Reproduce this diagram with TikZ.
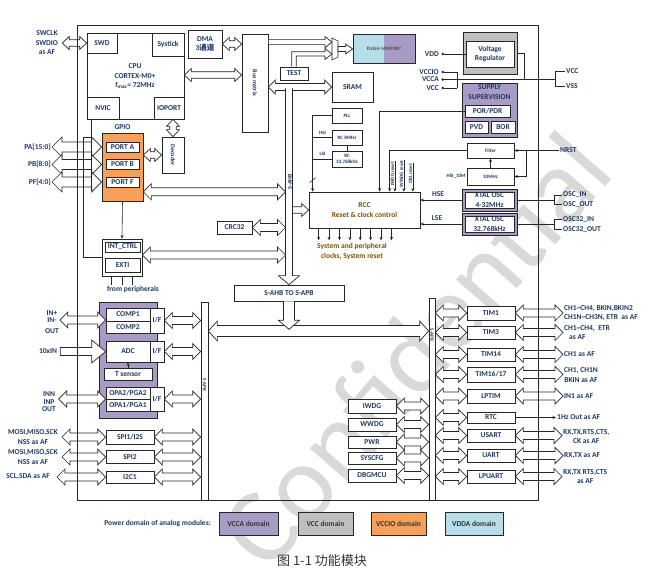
\documentclass[tikz,border=0pt]{standalone}
\usepackage{fontspec}
\setmainfont{Carlito}
\newfontfamily\cjk{Noto Sans CJK SC}
\usetikzlibrary{arrows.meta,positioning,calc}
\definecolor{ChipNavy}{HTML}{1F3864}
\definecolor{ChipBrown}{HTML}{7F5200}
\definecolor{VccaPurple}{HTML}{A89BC6}
\definecolor{VccGray}{HTML}{BFBFBF}
\definecolor{VccioOrange}{HTML}{F6A05A}
\definecolor{VddaBlue}{HTML}{B6DDE8}
\definecolor{WaterGray}{HTML}{D9D9D9}

\newcommand{\lbl}{\bfseries\fontsize{7.5}{9.5}\selectfont}
\newcommand{\sml}{\bfseries\fontsize{6}{7}\selectfont}
\newcommand{\tny}{\bfseries\fontsize{5}{6}\selectfont}

\tikzset{
  hs/.store in=\bhs, hh/.store in=\bhh, hl/.store in=\bhl,
  hs=4pt, hh=8pt, hl=8pt,
  small bus/.style={hs=3.2pt,hh=6.5pt,hl=7pt},
  big bus/.style={hs=5pt,hh=10pt,hl=10pt},
  blk/.style={draw=black!85,fill=white,line width=.7pt,inner sep=0pt,align=center,font=\lbl,text=ChipNavy},
  sz/.style 2 args={minimum width=#1,minimum height=#2},
  pin/.style={inner sep=1pt,align=center,font=\lbl,text=ChipNavy},
  wire/.style={draw=black!85,line width=.6pt},
  sig/.style={wire,-{Stealth[length=3.5pt,width=3pt]}},
  pwr/.style={wire,{Circle[length=2.4pt]}-},
  bus/.style={draw=black!85,fill=white,line width=.7pt},
}

% hollow bus arrows, the first point gives the height
\newcommand{\hbus}[3][]{\draw[bus,#1] let \p1=(#2), \p2=(#3) in
  (\x1,\y1) -- (\x1+\bhl,\y1+\bhh) -- (\x1+\bhl,\y1+\bhs) -- (\x2-\bhl,\y1+\bhs)
  -- (\x2-\bhl,\y1+\bhh) -- (\x2,\y1) -- (\x2-\bhl,\y1-\bhh) -- (\x2-\bhl,\y1-\bhs)
  -- (\x1+\bhl,\y1-\bhs) -- (\x1+\bhl,\y1-\bhh) -- cycle;}
\newcommand{\hone}[3][]{\draw[bus,#1] let \p1=(#2), \p2=(#3) in
  (\x1,\y1+\bhs) -- (\x2-\bhl,\y1+\bhs) -- (\x2-\bhl,\y1+\bhh) -- (\x2,\y1)
  -- (\x2-\bhl,\y1-\bhh) -- (\x2-\bhl,\y1-\bhs) -- (\x1,\y1-\bhs) -- cycle;}
\newcommand{\vbus}[3][]{\draw[bus,#1] let \p1=(#2), \p2=(#3) in
  (\x1,\y1) -- (\x1+\bhh,\y1-\bhl) -- (\x1+\bhs,\y1-\bhl) -- (\x1+\bhs,\y2+\bhl)
  -- (\x1+\bhh,\y2+\bhl) -- (\x1,\y2) -- (\x1-\bhh,\y2+\bhl) -- (\x1-\bhs,\y2+\bhl)
  -- (\x1-\bhs,\y1-\bhl) -- (\x1-\bhh,\y1-\bhl) -- cycle;}
\newcommand{\vone}[3][]{\draw[bus,#1] let \p1=(#2), \p2=(#3) in
  (\x1-\bhs,\y1) -- (\x1-\bhs,\y2+\bhl) -- (\x1-\bhh,\y2+\bhl) -- (\x1,\y2)
  -- (\x1+\bhh,\y2+\bhl) -- (\x1+\bhs,\y2+\bhl) -- (\x1+\bhs,\y1);}

\begin{document}
\begin{tikzpicture}[x=1pt,y=-1pt]
  \useasboundingbox (0,0) rectangle (651,585);
  \node[rotate=49,text=WaterGray,font=\fontsize{108}{108}\selectfont] (wmark) at (415,350) {Confidential};

  % core
  \node[blk,sz={97}{86}] (cpu) at (135.5,76) {};
  \node[blk,sz={30}{20}] (swd) at (102,43) {SWD};
  \node[blk,sz={32}{23}] (systick) at (168,44.5) {Systick};
  \node[blk,sz={32}{22}] (nvic) at (103,108) {NVIC};
  \node[blk,sz={30}{22}] (ioport) at (169,108) {IOPORT};
  \node[pin] (cpulbl) at (135,76.5) {CPU\\CORTEX-M0+\\f\textsubscript{max}= 72MHz};
  \node[blk,sz={34}{28}] (dma) at (205,44) {DMA\\3{\cjk 通道}};
  \node[blk,sz={26}{98}] (busmx) at (255,83) {};
  \node[font=\sml,text=ChipNavy,rotate=-90] (busmxlbl) at (busmx) {Bus matrix};
  \node[blk,sz={28}{13}] (test) at (294,73.5) {TEST};
  \node[blk,sz={41}{30}] (sram) at (352.5,87) {SRAM};
  \node[blk,sz={62}{29},fill=VddaBlue,font=\tny,text=black!70,
    path picture={\fill[VccaPurple] (path picture bounding box.north) rectangle (path picture bounding box.south east);}]
    (flash) at (384,48.5) {FLASH\,\,MEMORY};
  \draw[wire] (332,38) -- (338,41) -- (338,57) -- (332,60) -- cycle;
  \coordinate (mux) at (335,49);

  \node[pin] (swlbl) at (47,43) {SWCLK\\SWDIO\\as AF};
  \hbus[small bus]{$(swlbl.east)+(3,0)$}{swd.west};
  \hbus[small bus]{dma.east}{busmx.west};
  \hbus[small bus]{$(cpu.east)+(0,-1)$}{busmx.west};
  \hbus[hs=3.5pt,hh=7pt,hl=7pt]{busmx.east |- sram.west}{sram.west};
  \hone[hs=2.5pt,hh=5.5pt,hl=7pt]{$(busmx.north east)+(0,8.5)$}{$(mux)+(-3,0)$};
  \draw[bus] let \p1=(test.north), \p2=(mux) in
    (\x1-2.3pt,\y1) -- (\x1-2.3pt,\y2-2.7pt) -- (\x2-10pt,\y2-2.7pt) -- (\x2-10pt,\y2+.5pt)
    -- (\x2-3pt,\y2-5pt) -- (\x2-10pt,\y2-10.5pt) -- (\x2-10pt,\y2-7pt) -- (\x1+2.3pt,\y2-7pt)
    -- (\x1+2.3pt,\y1);
  \hone[hs=2.5pt,hh=5pt,hl=7pt]{$(mux)+(3,0)$}{flash.west};

  % power
  \node[blk,sz={54}{42},fill=VccGray] (vrego) at (490,53) {};
  \node[blk,sz={48}{26}] (vreg) at (490,54) {Voltage\\Regulator};
  \node[pin,anchor=east] (vdd) at (440,54) {VDD};
  \draw[pwr] ($(vdd.east)+(1.5,0)$) -- (vreg.west);
  \node[pin,anchor=east] (vccio) at (440,72) {VCCIO};
  \node[pin,anchor=east] (vcca) at (440,79.5) {VCCA};
  \node[pin,anchor=east] (vccl) at (440,88) {VCC};
  \node[pin,anchor=west] (vccr) at (565,71) {VCC};
  \node[pin,anchor=west] (vssr) at (565,86) {VSS};
  \coordinate (vbr) at ($(vcca.east)+(17,0)$);
  \coordinate (pwrbr) at ($(vccr.west)+(-10,0)$);
  \draw[pwr] ($(vccio.east)+(1.5,0)$) -- (vccio.east -| vbr) -- (vccl.east -| vbr);
  \draw[pwr] ($(vccl.east)+(1.5,0)$) -- (vccl.east -| vbr);
  \draw[pwr] ($(vcca.east)+(1.5,0)$) -- (vcca.east -| pwrbr);
  \draw[wire] (vccr.west) -- (vccr.west -| pwrbr) -- (vssr.west -| pwrbr) -- (vssr.west);
  \draw[wire] (vrego.east) -- ++(7,0) |- (vcca.east -| pwrbr);

  \node[blk,sz={55}{54},fill=VccaPurple] (supv) at (489.5,110) {};
  \node[pin] (supvlbl) at ($(supv.north)+(0,9.5)$) {SUPPLY\\SUPERVISION};
  \node[blk,sz={45}{12}] (por) at (487.5,111) {POR/PDR};
  \node[blk,sz={23}{12}] (pvd) at (476.5,127) {PVD};
  \node[blk,sz={24}{12}] (bor) at (503,127) {BOR};

  % clocks and reset
  \node[blk,sz={111}{36},text=ChipBrown] (rcc) at (364.5,210) {RCC\\Reset \& clock control};
  \draw[sig] (por.west) -| ($(rcc.north west)+(71,0)$);
  \node[blk,sz={47}{15},font=\tny] (filter) at (490.5,150.5) {Filter};
  \node[blk,sz={47}{17},font=\tny] (tenm) at (490.5,176.5) {10MHz};
  \node[pin,font=\tny,anchor=east] (hsi10) at (tenm.west) {HSI\_10M};
  \draw[sig] (filter.west) -| ($(rcc.north west)+(81,0)$);
  \draw[sig] (tenm.north) -- (filter.south);
  \node[pin,anchor=west] (nrst) at (559,150.5) {NRST};
  \draw[sig] (nrst.west) -- (filter.east);
  \coordinate (nrstb) at ($(filter.east)+(12,0)$);
  \draw[sig] (nrstb) |- (tenm.east);
  \node[pin,font=\tny,rotate=90,inner sep=.5pt] (iwdgr) at (392.5,174) {IWDG reset};
  \node[pin,font=\tny,rotate=90,inner sep=.5pt] (wwdgr) at (401.5,174) {WWDG reset};
  \node[pin,font=\tny,rotate=90,inner sep=.5pt] (oblr) at (410.5,174) {OBL reset};
  \draw[sig] (iwdgr.south east) -- (iwdgr.south east |- rcc.north);
  \draw[sig] (wwdgr.south east) -- (wwdgr.south east |- rcc.north);
  \draw[sig] (oblr.south east) -- (oblr.south east |- rcc.north);

  \node[blk,sz={30}{15},font=\tny] (pll) at (347,115.5) {PLL};
  \node[blk,sz={30}{15},font=\tny] (rc8) at (347,137.5) {RC 8MHz};
  \node[blk,sz={30}{16},font=\tny] (rc32) at (347,159) {RC\\32.768kHz};
  \draw[wire] (rc8.south) -- (rc32.north);
  \coordinate (clkin) at ($(rcc.north west)+(4,0)$);
  \draw[sig] (pll.west) -| (clkin);
  \draw[wire] (rc8.west) -- (rc8.west -| clkin);
  \draw[wire] (rc32.west) -- (rc32.west -| clkin);
  \draw[wire] ($(clkin)+(-3,-9)$) -- ++(6,-5);
  \node[pin,font=\tny] (hsi) at ($(rc8.west)+(-9,-5)$) {HSI};
  \node[pin,font=\tny] (lsi) at ($(rc32.west)+(-9,-5)$) {LSI};

  \node[blk,sz={55}{22},fill=VccaPurple] (hseo) at (489.5,200) {};
  \node[blk,sz={49}{16}] (hse) at (489.5,200) {XTAL OSC\\4-32MHz};
  \node[blk,sz={55}{22},fill=VccaPurple] (lseo) at (489.5,224) {};
  \node[blk,sz={49}{16}] (lse) at (489.5,224) {XTAL OSC\\32.768kHz};
  \draw[sig] (hseo.west) -- (hseo.west -| rcc.east);
  \draw[sig] (lseo.west) -- (lseo.west -| rcc.east);
  \node[pin] (hselbl) at (438,194) {HSE};
  \node[pin] (lselbl) at (437,218) {LSE};
  \node[pin,anchor=west] (oscin) at (562,195) {OSC\_IN};
  \node[pin,anchor=west] (oscout) at (562,204.5) {OSC\_OUT};
  \node[pin,anchor=west] (osc32in) at (562,219.5) {OSC32\_IN};
  \node[pin,anchor=west] (osc32out) at (562,229.5) {OSC32\_OUT};
  \coordinate (oscbr) at ($(oscin.west)+(-8,0)$);
  \draw[wire] (oscin.west) -- (oscin.west -| oscbr) -- (oscout.west -| oscbr) -- (oscout.west);
  \draw[wire] (osc32in.west) -- (osc32in.west -| oscbr) -- (osc32out.west -| oscbr) -- (osc32out.west);
  \draw[wire] (hseo.east) -- (hseo.east -| oscbr);
  \draw[wire] (lseo.east) -- (lseo.east -| oscbr);

  \foreach \i in {0,...,7}
    \draw[sig] ($(rcc.south west)+(10+10.4*\i,0)$) -- ++(0,12);
  \node[pin,text=ChipBrown] (clklbl) at (352,251.5) {System and peripheral\\clocks, System reset};

  % AHB side
  \node[blk,sz={35}{13}] (crc) at (234.5,227.5) {CRC32};
  \node[blk,sz={110}{16}] (ahb2apb) at (289,293) {S-AHB TO S-APB};
  \draw[bus] let \p1=(ahb2apb.north), \p2=(sram.west) in
    (\x1-3.5pt,\y2-1.5pt) -- (\x1-3.5pt,\y1+9pt) -- (\x1-10.5pt,\y1+9pt) -- (\x1,\y1)
    -- (\x1+10.5pt,\y1+9pt) -- (\x1+3.5pt,\y1+9pt) -- (\x1+3.5pt,\y2-1.5pt);
  \coordinate (ahbL) at ($(ahb2apb.north)+(-3.5,0)$);
  \coordinate (ahbR) at ($(ahb2apb.north)+(3.5,0)$);
  \node[font=\sml,text=ChipNavy,rotate=90] (ahblbl) at ($(ahb2apb.north)+(1,-103)$) {S-AHB};

  % GPIO
  \node[blk,sz={41}{68},fill=VccioOrange] (gpio) at (122.5,167) {};
  \node[pin] (gpiolbl) at ($(gpio.north)+(0,-6)$) {GPIO};
  \node[blk,sz={33}{10}] (porta) at (122.5,147) {PORT A};
  \node[blk,sz={33}{10}] (portb) at (122.5,164.5) {PORT B};
  \node[blk,sz={33}{10}] (portf) at (122.5,182) {PORT F};
  \node[blk,sz={22}{36}] (decoder) at (173,155) {};
  \node[font=\sml,text=ChipNavy,rotate=-90] (decolbl) at (decoder) {Decoder};
  \vbus[small bus]{decoder.north |- ioport.south}{decoder.north};
  \hbus[small bus]{gpio.east |- decoder.west}{decoder.west};
  \node[pin,anchor=east] (pa) at (52,147) {PA[15:0]};
  \node[pin,anchor=east] (pb) at (52,164.5) {PB[8:0]};
  \node[pin,anchor=east] (pf) at (52,182) {PF[4:0]};
  \hbus[big bus]{pa.east}{gpio.west};
  \hbus[big bus]{pb.east}{gpio.west};
  \hbus[big bus]{pf.east}{gpio.west};

  \node[blk,sz={40}{37}] (extio) at (122,257.5) {};
  \node[blk,sz={35}{10}] (intc) at (122.5,247) {INT\_CTRL};
  \node[blk,sz={35}{14}] (exti) at (122.5,265) {EXTI};
  \draw[sig] (portf.south |- gpio.south) -- (extio.north);
  \node[pin] (fromp) at ($(extio.south)+(11,13)$) {from peripherals};
  \draw[wire] ($(extio.south)+(-11,9)$) -- ++(0,-9);
  \draw[wire] ($(extio.south)+(0,9)$) -- ++(0,-9);
  \draw[wire] ($(extio.south)+(10,9)$) -- ++(0,-9);
  \coordinate (nvicx) at ($(nvic.south west)+(5,0)$);
  \draw[wire] (nvicx) -- ++(0,72);
  \draw[wire] ($(nvicx)+(0,18)$) -- ++(-8,0) |- (extio.west);

  \hbus{$(gpio.south east)+(0,-9.5)$}{ahbL};
  \hbus{crc.east}{ahbL};
  \hbus{$(extio.east)+(0,-2.5)$}{ahbL};
  \hone[small bus]{ahbR |- rcc.west}{rcc.west};

  % APB side
  \node[blk,sz={7}{198}] (apbL) at (204.5,401) {};
  \node[blk,sz={6}{202}] (apbR) at (432,399) {};
  \node[font=\tny,text=ChipNavy,rotate=-90] (apbLlbl) at ($(apbL)+(0,-16)$) {S-APB};
  \node[font=\tny,text=ChipNavy,rotate=-90] (apbRlbl) at ($(apbR)+(0,-64)$) {S-APB};
  \hbus[hs=5.5pt,hh=10pt,hl=9pt]{$(apbL.east)+(0,-70)$}{apbR.west};
  \vone[hs=5.5pt,hh=10.5pt,hl=9pt]{ahb2apb.south}{$(ahb2apb.south)+(0,28)$};

  \node[blk,sz={58}{116},fill=VccaPurple] (vccabox) at (128,360) {};
  \node[blk,sz={44}{13}] (comp1) at (128,314.5) {COMP1};
  \node[blk,sz={44}{12}] (comp2) at (128,327) {COMP2};
  \node[blk,sz={14}{25}] (if1) at (157,320.5) {I/F};
  \node[blk,sz={44}{21}] (adc) at (128,351.5) {ADC};
  \node[blk,sz={14}{21}] (if2) at (157,351.5) {I/F};
  \node[blk,sz={48}{12}] (tsens) at (128,374) {T sensor};
  \draw[sig] (tsens.north) -- (adc.south);
  \node[blk,sz={44}{12}] (opa2) at (128,393) {OPA2/PGA2};
  \node[blk,sz={44}{12}] (opa1) at (128,405) {OPA1/PGA1};
  \node[blk,sz={14}{24}] (if3) at (157,399) {I/F};
  \hbus{if1.east}{apbL.west};
  \hbus{if2.east}{apbL.west};
  \hbus{if3.east}{apbL.west};

  \node[pin] (inp1) at (52,313) {IN+};
  \node[pin] (inm1) at (52,320) {IN-};
  \node[pin] (out1) at (52,331) {OUT};
  \hbus{$(inm1.east)+(2,0)$}{comp1.west};
  \node[pin] (tenin) at (48,351.5) {10xIN};
  \hone[hs=4pt,hh=11.5pt,hl=14pt]{$(tenin.east)+(2,0)$}{adc.west};
  \node[pin] (inn2) at (49,394) {INN};
  \node[pin] (inp2) at (49,402) {INP};
  \node[pin] (out2) at (49,409.5) {OUT};
  \hbus{$(inp2.east)+(3,-3)$}{opa1.west};

  \node[blk,sz={48}{14}] (spi1) at (130,437) {SPI1/I2S};
  \node[blk,sz={48}{13}] (spi2) at (130,457) {SPI2};
  \node[blk,sz={48}{12}] (i2c1) at (130,477) {I2C1};
  \node[pin,anchor=east] (spi1l) at (59,437) {MOSI,MISO,SCK\\NSS as AF};
  \node[pin,anchor=east] (spi2l) at (59,457) {MOSI,MISO,SCK\\NSS as AF};
  \node[pin,anchor=east] (i2cl) at (51,477) {SCL,SDA as AF};
  \hbus{$(spi1l.east)+(3,0)$}{spi1.west};
  \hbus{$(spi2l.east)+(3,0)$}{spi2.west};
  \hbus{$(i2cl.east)+(6,0)$}{i2c1.west};
  \hbus{spi1.east}{apbL.west};
  \hbus{spi2.east}{apbL.west};
  \hbus{i2c1.east}{apbL.west};

  \node[blk,sz={48}{14}] (iwdg) at (372,406) {IWDG};
  \node[blk,sz={48}{13}] (wwdg) at (372,424.5) {WWDG};
  \node[blk,sz={48}{12}] (pwr) at (372,442) {PWR};
  \node[blk,sz={48}{12}] (syscfg) at (372,458) {SYSCFG};
  \node[blk,sz={48}{13}] (dbgmcu) at (372,475.5) {DBGMCU};
  \hbus{iwdg.east}{apbR.west};
  \hbus{wwdg.east}{apbR.west};
  \hbus{pwr.east}{apbR.west};
  \hbus{syscfg.east}{apbR.west};
  \hbus{dbgmcu.east}{apbR.west};

  % timers and serial
  \node[blk,sz={48}{14}] (tim1) at (491,313) {TIM1};
  \node[blk,sz={48}{13}] (tim3) at (491,332.5) {TIM3};
  \node[blk,sz={48}{13}] (tim14) at (491,354.5) {TIM14};
  \node[blk,sz={48}{15}] (tim16) at (491,374.5) {TIM16/17};
  \node[blk,sz={48}{14}] (lptim) at (491,396) {LPTIM};
  \node[blk,sz={48}{11}] (rtc) at (491,417.5) {RTC};
  \node[blk,sz={48}{13}] (usart) at (491,435.5) {USART};
  \node[blk,sz={48}{13}] (uart) at (491,455.5) {UART};
  \node[blk,sz={48}{13}] (lpuart) at (491,476.5) {LPUART};
  \hbus{apbR.east |- tim1.west}{tim1.west};
  \hbus{apbR.east |- tim3.west}{tim3.west};
  \hbus{apbR.east |- tim14.west}{tim14.west};
  \hbus{apbR.east |- tim16.west}{tim16.west};
  \hbus{apbR.east |- lptim.west}{lptim.west};
  \hbus{apbR.east |- rtc.west}{rtc.west};
  \hbus{apbR.east |- usart.west}{usart.west};
  \hbus{apbR.east |- uart.west}{uart.west};
  \hbus{apbR.east |- lpuart.west}{lpuart.west};

  \node[pin,anchor=west,align=left] (tim1l) at (563,313) {CH1\textasciitilde CH4, BKIN,BKIN2\\CH1N\textasciitilde CH3N, ETR\ \ as AF};
  \node[pin,anchor=west,align=left] (tim3l) at (563,332.5) {CH1\textasciitilde CH4,\ \ ETR\\\hspace*{5pt}as AF};
  \node[pin,anchor=west] (tim14l) at (563,354.5) {CH1 as AF};
  \node[pin,anchor=west] (tim16l) at (563,375) {CH1, CH1N\\BKIN as AF};
  \node[pin,anchor=west] (lptiml) at (563,396.5) {IN1 as AF};
  \node[pin,anchor=west] (rtcl) at (556,417.5) {1Hz Out as AF};
  \node[pin,anchor=west] (usartl) at (562,436.5) {RX,TX,RTS,CTS,\\CK as AF};
  \node[pin,anchor=west] (uartl) at (563,455.5) {RX,TX as AF};
  \node[pin,anchor=west] (lpuartl) at (562,476.5) {RX,TX RTS,CTS\\as AF};
  \hbus{tim1.east}{tim1l.west};
  \hbus{tim3.east}{tim3l.west};
  \hbus{tim14.east}{tim14l.west};
  \hbus{tim16.east}{tim16l.west};
  \hbus{lptim.east}{lptiml.west};
  \draw[sig] (rtc.east) -- (rtcl.west);
  \hbus{usart.east}{usartl.west};
  \hbus{uart.east}{uartl.west};
  \hbus{lpuart.east}{lpuartl.west};

  % legend and caption
  \node[pin,anchor=east] (legend) at (212,524) {Power domain of analog modules:};
  \node[blk,sz={59}{23},fill=VccaPurple,text=black!80] (lgvcca) at (248.5,523.5) {VCCA domain};
  \node[blk,sz={55}{23},fill=VccGray,text=black!80] (lgvcc) at (325.5,523.5) {VCC domain};
  \node[blk,sz={55}{23},fill=VccioOrange,text=black!80] (lgvccio) at (398.5,523.5) {VCCIO domain};
  \node[blk,sz={58}{23},fill=VddaBlue,text=black!80] (lgvdda) at (474,523.5) {VDDA domain};
  \node[text=black!80,font=\cjk\fontsize{13}{15}\selectfont] (caption) at (322,561) {图\ 1-1\ 功能模块};

  \draw[wire,line width=.8pt] (77,25) rectangle (538,500);
\end{tikzpicture}
\end{document}
